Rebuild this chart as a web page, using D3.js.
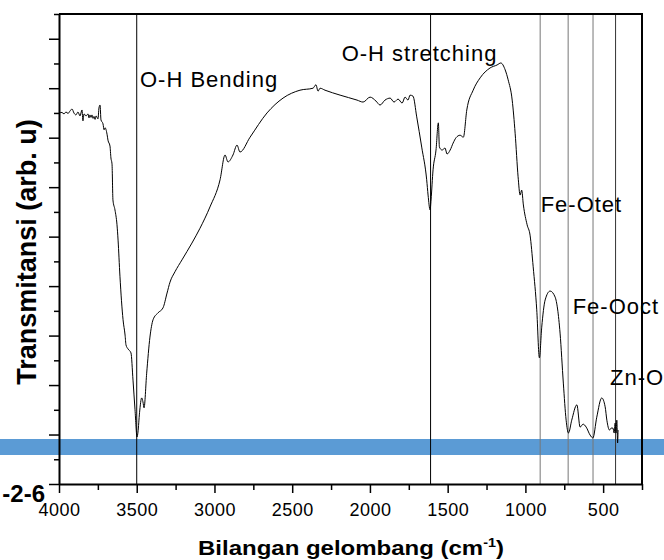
<!DOCTYPE html>
<html>
<head>
<meta charset="utf-8">
<script src="https://cdn.jsdelivr.net/npm/d3@7"></script>
<style>
  body { margin: 0; background: #fff; }
  text { font-family: "Liberation Sans", Arial, sans-serif; fill: #000; }
</style>
</head>
<body>
<svg id="chart" width="664" height="560"></svg>
<script>
// FTIR spectrum, [wavenumber (cm-1), transmittance (arb. u)]
const spectrum = [
  [4000, 75.0], [3981, 75.1], [3968, 74.8], [3955, 75.2], [3942, 74.9], [3929, 75.4],
  [3916, 75.8], [3904, 75.0], [3891, 74.6], [3878, 75.2], [3865, 74.4], [3852, 75.6],
  [3846, 73.4], [3839, 74.8], [3826, 74.4], [3813, 74.8], [3807, 74.0], [3801, 74.6],
  [3794, 74.1], [3788, 74.6], [3781, 73.9], [3775, 74.3], [3768, 73.7], [3762, 74.4],
  [3749, 73.8], [3743, 76.0], [3736, 76.6], [3730, 73.6], [3717, 72.8], [3710, 71.6],
  [3704, 72.0], [3691, 70.7], [3685, 69.5], [3672, 68.3], [3666, 65.9], [3659, 64.7],
  [3653, 57.4], [3640, 55.4], [3627, 52.4], [3620, 49.3], [3608, 42.0], [3588, 33.2],
  [3575, 30.1], [3569, 28.1], [3556, 27.3], [3537, 26.5], [3524, 21.0], [3511, 15.0],
  [3498, 9.5], [3492, 10.5], [3482, 14.4], [3468, 17.4], [3460, 16.6], [3453, 15.4],
  [3436, 22.4], [3415, 29.7], [3395, 33.2], [3363, 34.6], [3331, 35.6], [3305, 38.6],
  [3286, 40.8], [3254, 42.9], [3209, 45.3], [3145, 48.7], [3093, 51.7], [3029, 56.0],
  [2964, 61.5], [2932, 66.5], [2913, 65.1], [2881, 66.5], [2855, 68.5], [2836, 67.1],
  [2771, 70.1], [2662, 75.0], [2559, 78.0], [2450, 79.6], [2366, 80.0], [2347, 80.7],
  [2334, 79.4], [2321, 80.0], [2289, 79.6], [2192, 78.6], [2083, 77.6], [2044, 77.2],
  [1999, 78.2], [1961, 77.4], [1935, 76.6], [1903, 77.6], [1870, 78.0], [1845, 77.2],
  [1819, 77.8], [1793, 77.0], [1774, 78.2], [1755, 77.6], [1742, 78.6], [1723, 78.4],
  [1699, 74.2], [1667, 68.1], [1635, 61.5], [1626, 58.4], [1613, 55.4], [1607, 57.4],
  [1594, 63.5], [1575, 67.5], [1560, 73.0], [1553, 68.1], [1536, 67.5], [1517, 67.9],
  [1504, 66.7], [1484, 67.5], [1465, 68.9], [1446, 70.0], [1420, 70.5], [1399, 70.1],
  [1377, 75.6], [1336, 79.6], [1291, 82.1], [1227, 84.1], [1182, 84.7], [1158, 85.1],
  [1130, 83.7], [1111, 81.7], [1085, 77.6], [1066, 70.9], [1047, 62.1], [1034, 58.4],
  [1024, 59.4], [1013, 56.4], [989, 52.4], [970, 50.3], [950, 43.9], [927, 35.2],
  [910, 25.5], [895, 31.7], [873, 37.2], [841, 39.0], [809, 37.8], [777, 30.5],
  [756, 20.4], [738, 12.9], [723, 10.3], [702, 12.9], [669, 16.0], [648, 11.5],
  [629, 12.1], [609, 11.5], [584, 9.9], [566, 9.3], [541, 13.5], [509, 17.4],
  [487, 15.6], [476, 12.9], [459, 10.9], [448, 11.3], [437, 11.3], [429, 10.3],
  [423, 12.3], [417, 10.3], [412, 12.9], [407, 8.3], [404, 10.9]
];

// band positions marked with vertical lines
const peakLines = [3500, 1610, 905, 725, 565, 420];
const peakColors = ["#000", "#000", "#777", "#777", "#777", "#333"];

// annotation texts and where they sit (wavenumber, transmittance)
const labelTexts = ["O-H Bending", "O-H stretching", "Fe-Otet", "Fe-Ooct", "Zn-O"];
const labelWn = [3479, 2182, 902, 696, 456];
const labelT = [80.3, 85.4, 55.0, 34.4, 20.0];

const xMajor = [4000, 3500, 3000, 2500, 2000, 1500, 1000, 500];
const xMinor = [3750, 3250, 2750, 2250, 1750, 1250, 750, 250];
const yMajor = [0, 10, 20, 30, 40, 50, 60, 70, 80, 90];
const yMinor = [5, 15, 25, 35, 45, 55, 65, 75, 85, 95];

const svg = d3.select("#chart");
const plotLeft = 59, plotRight = 642, plotTop = 14, plotBottom = 484;

const x = d3.scaleLinear().domain([4000, 250]).range([plotLeft, plotRight]);
const y = d3.scaleLinear().domain([0, 95]).range([plotBottom, plotTop]);

// blue strip across the whole picture
svg.append("rect")
  .attr("x", 0).attr("y", 439)
  .attr("width", 664).attr("height", 16)
  .attr("fill", "#5b9bd5");

// vertical marker lines
svg.append("g").selectAll("line")
  .data(peakLines)
  .join("line")
  .attr("x1", d => x(d)).attr("x2", d => x(d))
  .attr("y1", plotTop).attr("y2", plotBottom)
  .attr("stroke", (d, i) => peakColors[i])
  .attr("stroke-width", 1);

// spectrum
const line = d3.line()
  .x(d => x(d[0]))
  .y(d => y(d[1]))
  .curve(d3.curveMonotoneX);

svg.append("path")
  .datum(spectrum)
  .attr("fill", "none")
  .attr("stroke", "#000")
  .attr("stroke-width", 1)
  .attr("d", line);

// axes
const xAxis = svg.append("g").attr("transform", `translate(0,${plotBottom})`)
  .call(d3.axisBottom(x).tickValues(xMajor).tickSize(9).tickPadding(10)
    .tickSizeOuter(0).tickFormat(d3.format("d")));
svg.append("g").attr("transform", `translate(0,${plotBottom})`)
  .call(d3.axisBottom(x).tickValues(xMinor).tickSize(6).tickFormat("").tickSizeOuter(0))
  .select(".domain").remove();
xAxis.selectAll("text")
  .attr("font-size", 18).attr("font-family", "'Liberation Sans', Arial, sans-serif")
  .attr("letter-spacing", 0.5);

svg.append("g").attr("transform", `translate(${plotLeft},0)`)
  .call(d3.axisLeft(y).tickValues(yMajor).tickSize(10).tickFormat("").tickSizeOuter(0));
svg.append("g").attr("transform", `translate(${plotLeft},0)`)
  .call(d3.axisLeft(y).tickValues(yMinor).tickSize(5).tickFormat("").tickSizeOuter(0))
  .select(".domain").remove();

svg.selectAll(".domain").attr("stroke-width", 2);
svg.selectAll(".tick line").attr("stroke-width", 1.5);

// top and right frame
svg.append("path")
  .attr("d", `M${plotLeft},${plotTop}H${plotRight}V${plotBottom}`)
  .attr("fill", "none")
  .attr("stroke", "#000")
  .attr("stroke-width", 2);

// annotations
svg.append("g").selectAll("text")
  .data(labelTexts)
  .join("text")
  .attr("x", (d, i) => x(labelWn[i]))
  .attr("y", (d, i) => y(labelT[i]))
  .attr("font-size", 22)
  .attr("letter-spacing", 1)
  .text(d => d);

// axis titles
const xTitle = svg.append("text")
  .attr("transform", "translate(351,555) scale(1.2,1)")
  .attr("text-anchor", "middle")
  .attr("font-size", 20)
  .attr("font-weight", "bold");
xTitle.append("tspan").text("Bilangan gelombang (cm");
xTitle.append("tspan").attr("font-size", 12).attr("dy", -8).text("-1");
xTitle.append("tspan").attr("dy", 8).text(")");

svg.append("text")
  .attr("transform", "translate(36,252) rotate(-90)")
  .attr("text-anchor", "middle")
  .attr("font-size", 27)
  .attr("font-weight", "bold")
  .text("Transmitansi (arb. u)");

// stray label at the lower left corner
svg.append("text")
  .attr("x", 45).attr("y", 502)
  .attr("text-anchor", "end")
  .attr("font-size", 24)
  .attr("font-weight", "bold")
  .text("-2-6");
</script>
</body>
</html>
